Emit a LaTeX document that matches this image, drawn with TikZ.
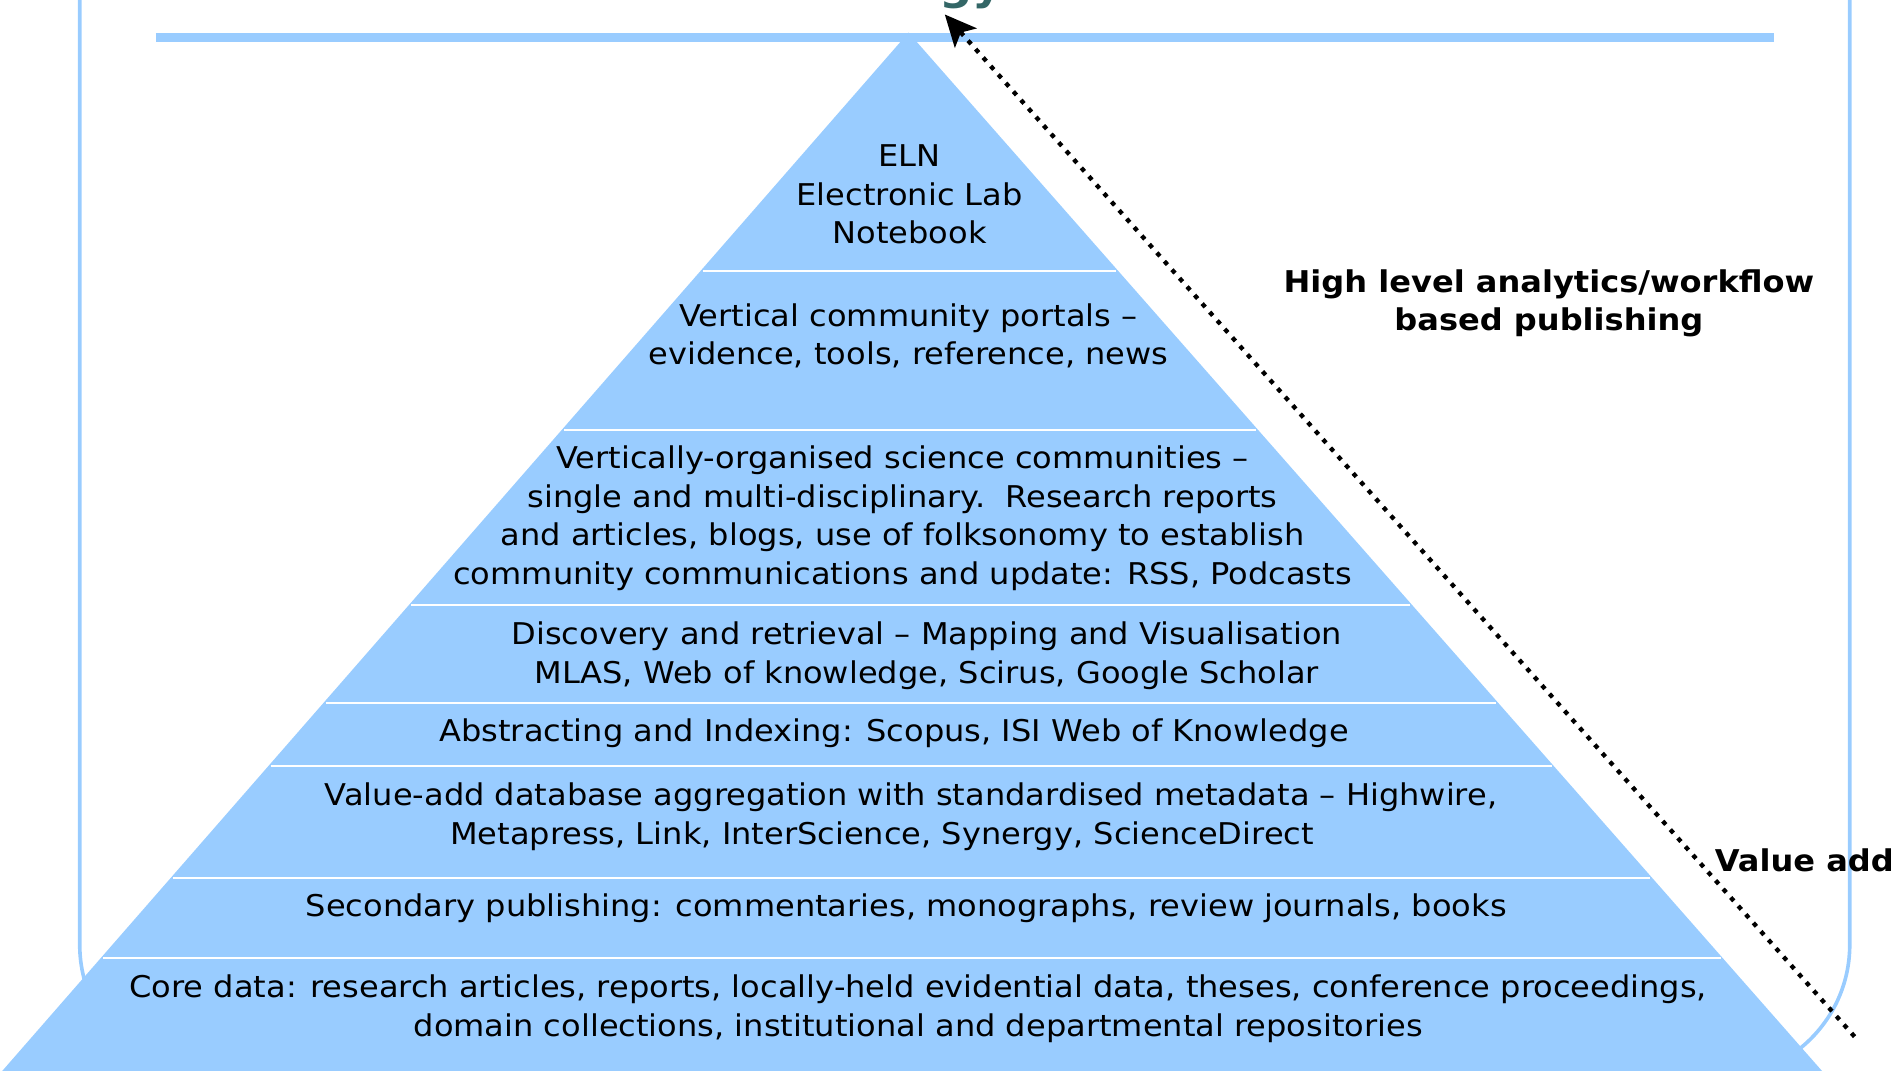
\documentclass[tikz,border=0pt]{standalone}
\usepackage{fontspec}
\setmainfont[FakeStretch=1.07]{DejaVu Sans}
\usetikzlibrary{arrows.meta}
\definecolor{pyrblue}{HTML}{99CCFF}
\definecolor{titleteal}{HTML}{336666}
\newcommand{\pyrfont}{\fontsize{12.4}{16}\selectfont}
\tikzstyle{framebox} = [draw=pyrblue, line width=1.5pt, rounded corners=55pt]
\tikzstyle{topbar} = [draw=pyrblue, line width=3.5pt]
\tikzstyle{sepline} = [draw=white, line width=0.9pt]
\tikzstyle{layertext} = [align=center, inner sep=0pt, font=\pyrfont, text=black]
\tikzstyle{sidelabel} = [align=center, inner sep=0pt, font=\pyrfont\bfseries, text=black]
\tikzstyle{titlefrag} = [anchor=base, inner sep=0pt, font=\fontsize{18}{18}\selectfont\bfseries, text=titleteal]
\tikzstyle{valarrow} = [draw=black, line width=1.8pt, dash pattern=on 1.9pt off 2.8pt, -{Stealth[length=13pt, width=12pt, inset=3pt]}]

\begin{document}
\begin{tikzpicture}[x=0.5pt, y=-0.5pt]
\useasboundingbox (0,0) rectangle (1566,886);
\clip (0,0) rectangle (1566,886);
\node[titlefrag] (title) at (804,0) {gy};
\draw[framebox] (66,-200) rectangle (1531,892);
\draw[topbar] (129,31) -- (1468,31);
\fill[pyrblue] (752,27) -- (1520,900) -- (-10,900) -- cycle;
\foreach \y in {224,356,501,582,634,727,793}
  \draw[sepline] ({754-0.873*(\y-27)},\y) -- ({750+0.88*(\y-27)},\y);

\node[layertext] (eln) at (753,161) {ELN\\Electronic Lab\\Notebook};
\node[layertext] (portals) at (752,278) {Vertical community portals –\\evidence, tools, reference, news};
\node[layertext] (communities) at (747,429) {Vertically-organised science communities –\\single and multi-disciplinary.\ \ Research reports\\and articles, blogs, use of folksonomy to establish\\community communications and update: RSS, Podcasts};
\node[layertext] (discovery) at (767,543) {Discovery and retrieval – Mapping and Visualisation\\MLAS, Web of knowledge, Scirus, Google Scholar};
\node[layertext] (indexing) at (740,607) {Abstracting and Indexing: Scopus, ISI Web of Knowledge};
\node[layertext] (aggregation) at (754,676) {Value-add database aggregation with standardised metadata – Highwire,\\Metapress, Link, InterScience, Synergy, ScienceDirect\hspace*{24pt}};
\node[layertext] (secondary) at (750,752) {Secondary publishing: commentaries, monographs, review journals, books};
\node[layertext] (coredata) at (760,835) {Core data: research articles, reports, locally-held evidential data, theses, conference proceedings,\\domain collections, institutional and departmental repositories};

\node[sidelabel] (analytics) at (1282,251) {High level analytics/workflow\\based publishing};
\node[sidelabel, anchor=west] (valueadd) at (1419,712) {Value add};

\coordinate (vbase) at (1535,858);
\coordinate (vtop) at (782,12);
\draw[valarrow] (vbase) -- (vtop);
\end{tikzpicture}
\end{document}
